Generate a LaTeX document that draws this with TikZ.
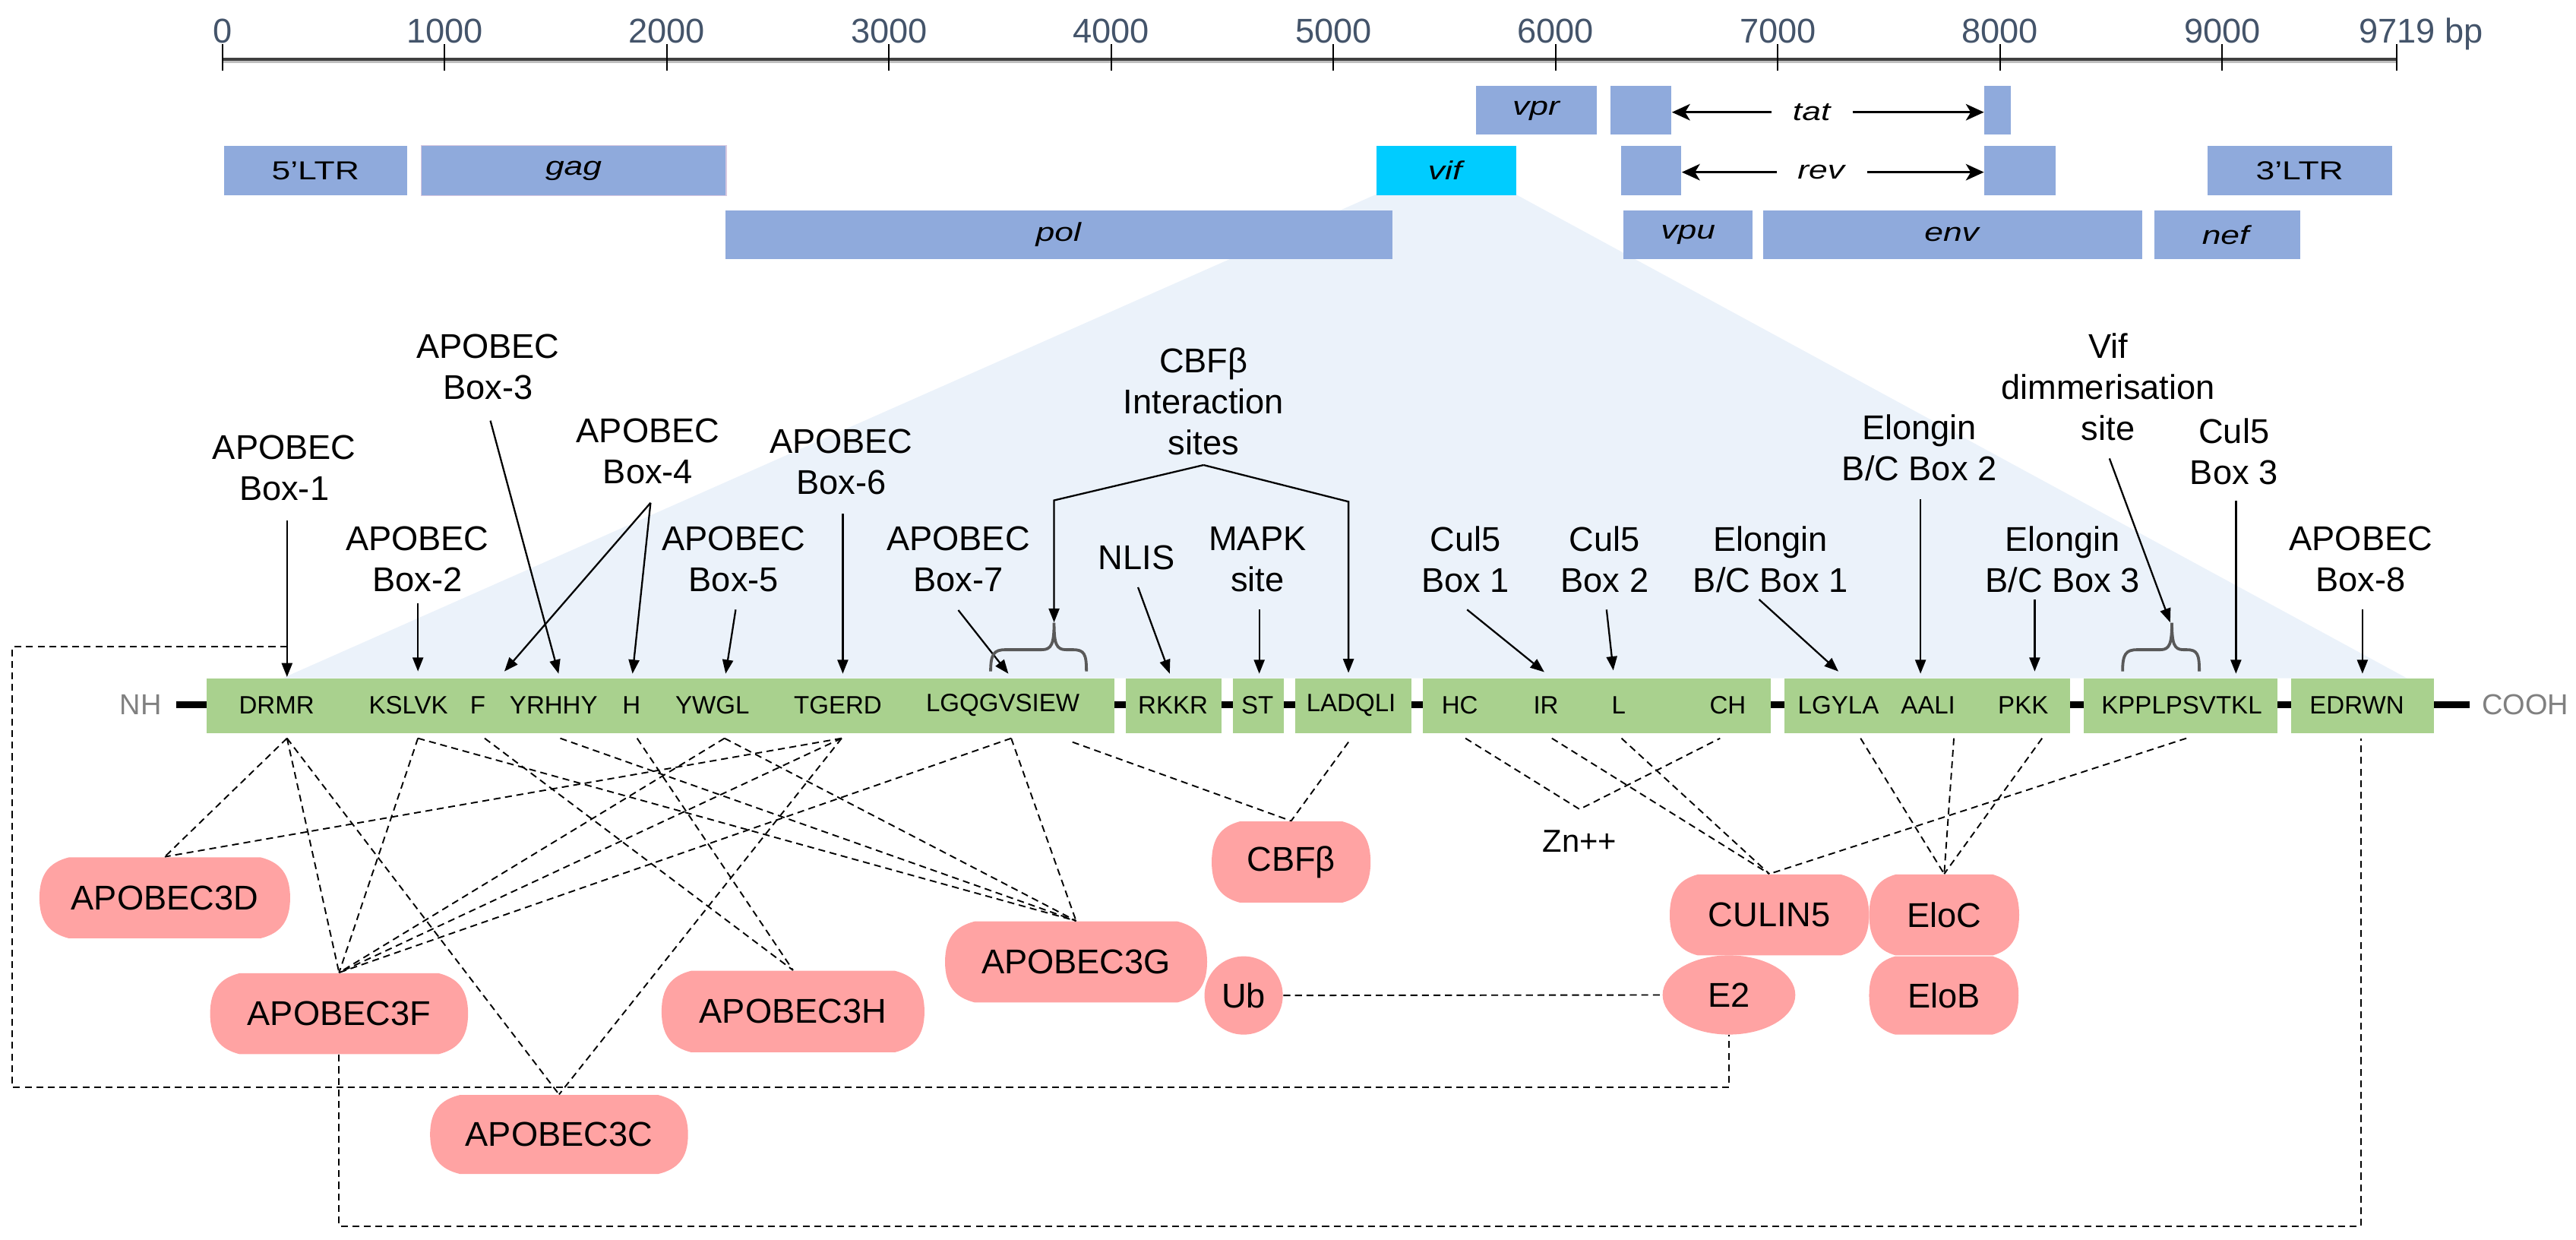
\documentclass[tikz,border=0pt]{standalone}
\usepackage{fontspec}
\usepackage{graphicx}
\setmainfont{Liberation Sans}
\usetikzlibrary{arrows.meta,shapes.geometric}
\definecolor{barblue}{HTML}{8FAADC}
\definecolor{vifcyan}{HTML}{00CCFF}
\definecolor{protgreen}{HTML}{A9D18E}
\definecolor{protpink}{HTML}{FFA3A3}
\definecolor{shadeblue}{HTML}{EBF2FA}
\definecolor{axisgray}{HTML}{44546A}
\definecolor{bracegray}{HTML}{595959}
\definecolor{gagborder}{HTML}{D8C8E0}
\newcommand{\gl}[1]{\scalebox{1.3}[1]{#1}}
\newcommand{\protnode}[7]{%
  \fill[protpink] ({#2-#4/2+#6},{#3-#5/2}) -- ({#2+#4/2-#6},{#3-#5/2})
    .. controls ({#2+#4/2-0.35*#6},{#3-#5/2+0.06*#5}) and ({#2+#4/2},{#3-0.3*#5}) .. ({#2+#4/2},{#3})
    .. controls ({#2+#4/2},{#3+0.3*#5}) and ({#2+#4/2-0.35*#6},{#3+#5/2-0.06*#5}) .. ({#2+#4/2-#6},{#3+#5/2})
    -- ({#2-#4/2+#6},{#3+#5/2})
    .. controls ({#2-#4/2+0.35*#6},{#3+#5/2-0.06*#5}) and ({#2-#4/2},{#3+0.3*#5}) .. ({#2-#4/2},{#3})
    .. controls ({#2-#4/2},{#3-0.3*#5}) and ({#2-#4/2+0.35*#6},{#3-#5/2+0.06*#5}) .. ({#2-#4/2+#6},{#3-#5/2}) -- cycle;
  \node[prot, minimum width={#4*0.02cm}, minimum height={#5*0.02cm}] (#1) at (#2,#3) {#7};}
\newcommand{\genebar}[7]{%
  \node[anchor=north west, inner sep=0pt, fill=#6, minimum width={(#4-#2)*0.02cm}, minimum height={(#5-#3)*0.02cm}, glabel] (#1) at (#2,#3) {#7};}
\begin{document}
\begin{tikzpicture}[x=0.02cm,y=-0.02cm,
  lbl/.style={align=center, font=\fontsize{11.9}{14.2}\selectfont, inner sep=0pt},
  sitetxt/.style={font=\fontsize{8.7}{10}\selectfont, inner sep=0pt},
  glabel/.style={font=\fontsize{9}{11}\selectfont},
  axtick/.style={line width=0.5pt},
  axnum/.style={font=\fontsize{11.9}{14}\selectfont, text=axisgray, anchor=base, inner sep=0pt},
  arr/.style={line width=0.6pt, -{Triangle[length=0.17cm,width=0.13cm]}},
  garr/.style={line width=0.7pt, -{Stealth[length=0.22cm,width=0.2cm,inset=0.06cm]}},
  conn/.style={line width=0.5pt, dash pattern=on 2.4pt off 1.6pt},
  prot/.style={font=\fontsize{11.9}{14}\selectfont, inner sep=0pt},
  bracesty/.style={line width=1pt, bracegray},
  endlbl/.style={font=\fontsize{10}{12}\selectfont, text=gray, inner sep=0pt},
  seg/.style={anchor=north west, inner sep=0pt, fill=protgreen, minimum height=0.664cm},
]
\useasboundingbox (0,0) rectangle (1568,754.6);

% shading from vif to protein
\fill[shadeblue] (837.4,118.4) -- (922.8,118.4) -- (1465,412.7) -- (172,412.7) -- cycle;

% axis
\draw[line width=1.2pt, black!25] (136,37.5) -- (1459,37.5);
\draw[line width=1pt, black!75] (136,36) -- (1459,36);
\foreach \k/\lab in {0/0,1/1000,2/2000,3/3000,4/4000,5/5000,6/6000,7/7000,8/8000,9/9000}{
  \draw[axtick] ({135.4+135.25*\k},27) -- ({135.4+135.25*\k},43);
  \node[axnum] (ax\k) at ({135.4+135.25*\k},26.2) {\lab};
}
\draw[axtick] (1459,27) -- (1459,43);
\node[axnum] (axend) at (1459,26.2) {9719\rlap{ bp}};

% genome
\genebar{vpr}{898.3}{52.1}{971.7}{81.7}{barblue}{\gl{\textit{vpr}}}
\genebar{tatA}{980.1}{52.1}{1017}{81.7}{barblue}{}
\genebar{tatB}{1207.6}{52.1}{1223.5}{81.7}{barblue}{}
\genebar{ltrL}{136}{88.6}{247.3}{118.4}{barblue}{\gl{5’LTR}}
\genebar{gag}{256.3}{88.6}{441.3}{118.4}{barblue}{\gl{\textit{gag}}}
\draw[gagborder, line width=0.4pt] (gag.north west) rectangle (gag.south east);
\genebar{vif}{837.4}{88.6}{922.8}{118.4}{vifcyan}{\gl{\textit{vif}}}
\genebar{revA}{986.6}{88.6}{1023}{118.4}{barblue}{}
\genebar{revB}{1207.6}{88.6}{1251}{118.4}{barblue}{}
\genebar{ltrR}{1343.3}{88.6}{1455.5}{118.4}{barblue}{\gl{3’LTR}}
\genebar{pol}{441.3}{127.6}{847}{157.4}{barblue}{\gl{\textit{pol}}}
\genebar{vpu}{988}{127.6}{1066.4}{157.4}{barblue}{\gl{\textit{vpu}}}
\genebar{env}{1072.8}{127.6}{1303.4}{157.4}{barblue}{\gl{\textit{env}}}
\genebar{nef}{1310.8}{127.6}{1399.6}{157.4}{barblue}{\gl{\textit{nef}}}
\node[glabel, inner ysep=0pt, inner xsep=0.25cm] (tat) at (1103,68.3) {\gl{\textit{tat}}};
\draw[garr] (tat.west) -- (tat.west -| tatA.east);
\draw[garr] (tat.east) -- (tat.east -| tatB.west);
\node[glabel, inner ysep=0pt, inner xsep=0.25cm] (rev) at (1109,104.8) {\gl{\textit{rev}}};
\draw[garr] (rev.west) -- (rev.west -| revA.east);
\draw[garr] (rev.east) -- (rev.east -| revB.west);

% protein backbone
\node[endlbl, inner xsep=0.17cm] (NH) at (85.6,429) {NH};
\node[endlbl, inner xsep=0.14cm] (COOH) at (1537,429) {COOH};
\draw[line width=2.3pt] (NH.east) -- (COOH.west);
\node[seg, minimum width=11.056cm] (g1) at (125.5,412.7) {};
\node[seg, minimum width=1.168cm] (g2) at (685,412.7) {};
\node[seg, minimum width=0.616cm] (g3) at (750.2,412.7) {};
\node[seg, minimum width=1.422cm] (g4) at (787.9,412.7) {};
\node[seg, minimum width=4.238cm] (g5) at (865.8,412.7) {};
\node[seg, minimum width=3.476cm] (g6) at (1085.8,412.7) {};
\node[seg, minimum width=2.36cm] (g7) at (1268,412.7) {};
\node[seg, minimum width=1.74cm] (g8) at (1394,412.7) {};

\foreach \nm/\xx/\tx in {sDRMR/168.4/DRMR, sKSLVK/248.6/KSLVK, sF/290.8/F, sYRHHY/337/YRHHY, sH/384.4/H, sYWGL/433.6/YWGL, sTGERD/510/TGERD, sLGQ/610.4/LGQGVSIEW, sRKKR/714/RKKR, sST/765.4/ST, sLADQLI/822.4/LADQLI, sHC/888.6/HC, sIR/941/IR, sL/985.3/L, sCH/1051.7/CH, sLGYLA/1119/LGYLA, sAALI/1173.6/AALI, sPKK/1231.5/PKK, sKPP/1328/KPPLPSVTKL, sEDRWN/1434.6/EDRWN}{
  \node[sitetxt] (\nm) at (\xx,429) {\tx};
}

% labels above
\node[lbl] (b1) at (173,285) {APOBEC\\Box-1};
\node[lbl] (b2) at (254,340.5) {APOBEC\\Box-2};
\node[lbl] (b3) at (297,223.5) {APOBEC\\Box-3};
\node[lbl] (b4) at (394.4,274.8) {APOBEC\\Box-4};
\node[lbl] (b5) at (446.6,340.5) {APOBEC\\Box-5};
\node[lbl] (b6) at (512,281) {APOBEC\\Box-6};
\node[lbl] (b7) at (583.3,340.5) {APOBEC\\Box-7};
\node[lbl] (cbf) at (732.6,244.5) {CBFβ\\Interaction\\sites};
\node[lbl] (nlis) at (691.8,339.2) {NLIS};
\node[lbl] (mapk) at (765.4,340.5) {MAPK\\site};
\node[lbl] (c51) at (892,340.5) {Cul5\\Box 1};
\node[lbl] (c52) at (976.8,340.5) {Cul5\\Box 2};
\node[lbl] (e1) at (1077.7,340.5) {Elongin\\B/C Box 1};
\node[lbl] (e2l) at (1168.3,272.3) {Elongin\\B/C Box 2};
\node[lbl] (vifd) at (1283.2,235.5) {Vif\\dimmerisation\\site};
\node[lbl] (e3) at (1255.5,340.5) {Elongin\\B/C Box 3};
\node[lbl] (c53) at (1359.8,274.8) {Cul5\\Box 3};
\node[lbl] (b8) at (1437,340.5) {APOBEC\\Box-8};

% arrow coordinates
\coordinate (a1s) at (174.7,316.7); \coordinate (a1e) at (174.7,412);
\coordinate (a2s) at (254.4,367);   \coordinate (a2e) at (254.4,408.6);
\coordinate (a3s) at (298.5,256);   \coordinate (a3e) at (340,410);
\coordinate (a4s) at (396,306);     \coordinate (a4e) at (307,408.6); \coordinate (a4f) at (385,410);
\coordinate (a5s) at (447.8,371);   \coordinate (a5e) at (441.7,410);
\coordinate (a6s) at (513,312.8);   \coordinate (a6e) at (513,410);
\coordinate (a7s) at (583.3,371.3); \coordinate (a7e) at (613.8,410);
\coordinate (ans) at (692.7,357.4); \coordinate (ane) at (712,410);
\coordinate (ams) at (766.5,371);   \coordinate (ame) at (766.5,410);
\coordinate (cbT) at (732.6,283); \coordinate (cbL) at (641.6,304.5); \coordinate (cbLe) at (641.6,378.8);
\coordinate (cbR) at (820.8,305.3); \coordinate (cbRe) at (820.8,409.5);
\coordinate (ac1s) at (893,371);    \coordinate (ac1e) at (940,409);
\coordinate (ac2s) at (977.9,371);  \coordinate (ac2e) at (982,408);
\coordinate (ae1s) at (1070.7,364.8); \coordinate (ae1e) at (1119,408.6);
\coordinate (ae2s) at (1169,303.7); \coordinate (ae2e) at (1169,410);
\coordinate (ae3s) at (1238.5,364.8); \coordinate (ae3e) at (1238.5,408.6);
\coordinate (avs) at (1284,279);    \coordinate (ave) at (1321,378.8);
\coordinate (ac3s) at (1361,304.5); \coordinate (ac3e) at (1361,410);
\coordinate (ab8s) at (1438,371);   \coordinate (ab8e) at (1438,410);

\draw[arr] (a1s) -- (a1e);
\draw[arr] (a2s) -- (a2e);
\draw[arr] (a3s) -- (a3e);
\draw[arr] (a4s) -- (a4e);
\draw[arr] (a4s) -- (a4f);
\draw[arr] (a5s) -- (a5e);
\draw[arr] (a6s) -- (a6e);
\draw[arr] (a7s) -- (a7e);
\draw[arr] (ans) -- (ane);
\draw[arr] (ams) -- (ame);
\draw[arr] (cbT) -- (cbL) -- (cbLe);
\draw[arr] (cbT) -- (cbR) -- (cbRe);
\draw[arr] (ac1s) -- (ac1e);
\draw[arr] (ac2s) -- (ac2e);
\draw[arr] (ae1s) -- (ae1e);
\draw[arr] (ae2s) -- (ae2e);
\draw[arr] (ae3s) -- (ae3e);
\draw[arr] (avs) -- (ave);
\draw[arr] (ac3s) -- (ac3e);
\draw[arr] (ab8s) -- (ab8e);

% braces
\draw[bracesty] (603,408.6) .. controls (603,398) and (605,395.4) .. (612,395.4) -- (634,395.4)
  .. controls (640,395.4) and (641.6,392) .. (641.6,379)
  .. controls (641.6,392) and (643,395.4) .. (649,395.4) -- (653,395.4)
  .. controls (660,395.4) and (661.3,398) .. (661.3,408.6);
\draw[bracesty] (1292,408.6) .. controls (1292,398) and (1294,395.4) .. (1301,395.4) -- (1315,395.4)
  .. controls (1320.5,395.4) and (1322,392) .. (1322,379)
  .. controls (1322,392) and (1323.5,395.4) .. (1329,395.4) -- (1331,395.4)
  .. controls (1337.5,395.4) and (1338.7,398) .. (1338.7,408.6);

% protein partners
\protnode{nD}{100.3}{546.4}{152.6}{49.3}{18}{APOBEC3D}
\protnode{nF}{206.4}{616.9}{157}{49.3}{18}{APOBEC3F}
\protnode{nH}{482.7}{615.6}{160}{49.6}{18}{APOBEC3H}
\protnode{nG}{655}{585.4}{159.5}{49.3}{18}{APOBEC3G}
\protnode{nC}{340.3}{690.4}{157}{48}{18}{APOBEC3C}
\protnode{nCBF}{785.9}{524.6}{96.7}{49.3}{17}{CBFβ}
\protnode{nCUL}{1077}{556.8}{121.3}{49.2}{17}{CULIN5}
\protnode{nEloC}{1183.4}{556.8}{91.3}{49.2}{16}{EloC}
\protnode{nEloB}{1183.2}{605.8}{91}{47.7}{16}{EloB}
\node[ellipse, fill=protpink, prot, minimum width=1.616cm, minimum height=0.964cm] (nE2) at (1052.4,605.5) {E2};
\node[ellipse, fill=protpink, prot, minimum width=0.954cm, minimum height=0.954cm] (nUb) at (757,605.8) {Ub};
\node[font=\fontsize{11}{13}\selectfont, inner sep=0pt] (zntxt) at (961.5,511.7) {Zn++};

% link coordinates
\coordinate (dDRMR) at (174.7,449.3);
\coordinate (dKSLVK) at (254.4,449.3);
\coordinate (dF) at (295,449.3);
\coordinate (dYRHHY) at (341,449.3);
\coordinate (dH) at (387.8,449.3);
\coordinate (dYWGL) at (441,449.3);
\coordinate (dTGERD) at (512.3,449.3);
\coordinate (dLGQ) at (615.5,449.3);
\coordinate (dLGQb) at (652.8,451.6);
\coordinate (dLADQLI) at (820.8,451.6);
\coordinate (dHC) at (892,449.3);
\coordinate (dIR) at (944.6,449.3);
\coordinate (dL) at (987,449.3);
\coordinate (dCH) at (1047,449.3);
\coordinate (dLGYLA) at (1132.5,449.3);
\coordinate (dAALI) at (1189.3,449.3);
\coordinate (dPKK) at (1243,449.3);
\coordinate (dKPP) at (1330.8,449.3);
\coordinate (dEDRWN) at (1437,449.3);
\coordinate (zn) at (961.5,492.5);
\coordinate (r1a) at (174.7,393.7);

\draw[conn] (dDRMR) -- (nD.north);
\draw[conn] (dDRMR) -- (nF.north);
\draw[conn] (dDRMR) -- (nC.north);
\draw[conn] (dKSLVK) -- (nF.north);
\draw[conn] (dKSLVK) -- (nG.north);
\draw[conn] (dF) -- (nH.north);
\draw[conn] (dYRHHY) -- (nG.north);
\draw[conn] (dH) -- (nH.north);
\draw[conn] (dYWGL) -- (nF.north);
\draw[conn] (dYWGL) -- (nG.north);
\draw[conn] (dTGERD) -- (nD.north);
\draw[conn] (dTGERD) -- (nF.north);
\draw[conn] (dTGERD) -- (nC.north);
\draw[conn] (dLGQ) -- (nF.north);
\draw[conn] (dLGQ) -- (nG.north);
\draw[conn] (dLGQb) -- (nCBF.north);
\draw[conn] (dLADQLI) -- (nCBF.north);
\draw[conn] (dHC) -- (zn) -- (dCH);
\draw[conn] (dIR) -- (nCUL.north);
\draw[conn] (dL) -- (nCUL.north);
\draw[conn] (dKPP) -- (nCUL.north);
\draw[conn] (dLGYLA) -- (nEloC.north);
\draw[conn] (dAALI) -- (nEloC.north);
\draw[conn] (dPKK) -- (nEloC.north);
\draw[conn] (r1a) -| (7.5,661.7) -| (nE2.south);
\draw[conn] (nF.south) |- (1437,746.3) -- (dEDRWN);
\draw[conn] (nUb.east) -- (nE2.west);
\end{tikzpicture}
\end{document}
